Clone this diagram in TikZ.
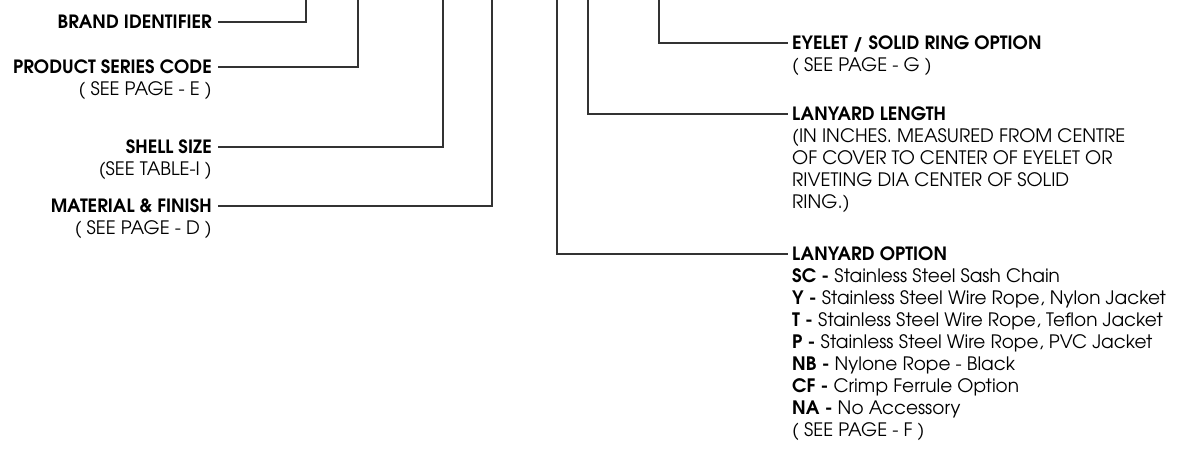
\documentclass[tikz,border=0pt]{standalone}
\usepackage{fontspec}
\setmainfont{texgyreadventor}[Extension=.otf, UprightFont=*-regular, BoldFont=*-bold]
\begin{document}
\begin{tikzpicture}[x=1pt,y=-1pt,
  lbl/.style={font=\fontsize{18.5}{22}\selectfont, text height=13pt, text depth=0pt, inner ysep=0pt},
  lhead/.style={lbl, font=\fontsize{18.3}{22}\selectfont\bfseries, anchor=east, inner xsep=6pt},
  lsub/.style={lbl, anchor=east, inner xsep=0pt},
  rhead/.style={lbl, font=\fontsize{18.3}{22}\selectfont\bfseries, anchor=west, inner xsep=4pt},
  rsub/.style={lbl, anchor=west, inner xsep=0pt},
  conn/.style={draw=black!80, line width=1.2pt}]
\useasboundingbox (0,0) rectangle (1184,450);
% top ends
\coordinate (tB) at (306,0);
\coordinate (tP) at (358,0);
\coordinate (tS) at (443,0);
\coordinate (tM) at (492,0);
\coordinate (tO) at (557,0);
\coordinate (tL) at (588,0);
\coordinate (tE) at (659,0);
% left labels
\node[lhead] (brand) at (218,22) {BRAND IDENTIFIER};
\node[lhead] (product) at (218,67) {PRODUCT SERIES CODE};
\node[lsub] (productS) at (212,89) {( SEE PAGE - E )};
\node[lhead] (shell) at (218,147) {SHELL SIZE};
\node[lsub] (shellS) at (212,169) {(SEE TABLE-I )};
\node[lhead] (material) at (218,206) {MATERIAL \& FINISH};
\node[lsub] (materialS) at (212,228) {( SEE PAGE - D )};
% right labels
\node[rhead] (eyelet) at (788,43) {EYELET / SOLID RING OPTION};
\node[rsub] (eyeletS) at (792,65) {( SEE PAGE - G )};
\node[rhead] (length) at (788,114) {LANYARD LENGTH};
\node[rsub] (length1) at (792,136) {(IN INCHES. MEASURED FROM CENTRE};
\node[rsub] (length2) at (792,158) {OF COVER TO CENTER OF EYELET OR};
\node[rsub] (length3) at (792,180) {RIVETING DIA CENTER OF SOLID};
\node[rsub] (length4) at (792,202) {RING.)};
\node[rhead] (option) at (788,254) {LANYARD OPTION};
\node[rsub] (opt1) at (792,276) {\textbf{SC -} Stainless Steel Sash Chain};
\node[rsub] (opt2) at (792,298) {\textbf{Y -} Stainless Steel Wire Rope, Nylon Jacket};
\node[rsub] (opt3) at (792,320) {\textbf{T -} Stainless Steel Wire Rope, Teflon Jacket};
\node[rsub] (opt4) at (792,342) {\textbf{P -} Stainless Steel Wire Rope, PVC Jacket};
\node[rsub] (opt5) at (792,364) {\textbf{NB -} Nylone Rope - Black};
\node[rsub] (opt6) at (792,386) {\textbf{CF -} Crimp Ferrule Option};
\node[rsub] (opt7) at (792,408) {\textbf{NA -} No Accessory};
\node[rsub] (opt8) at (792,430) {( SEE PAGE - F )};
% connectors
\draw[conn] (brand.east) -| (tB);
\draw[conn] (product.east) -| (tP);
\draw[conn] (shell.east) -| (tS);
\draw[conn] (material.east) -| (tM);
\draw[conn] (tE) |- (eyelet.west);
\draw[conn] (tL) |- (length.west);
\draw[conn] (tO) |- (option.west);
\end{tikzpicture}
\end{document}
